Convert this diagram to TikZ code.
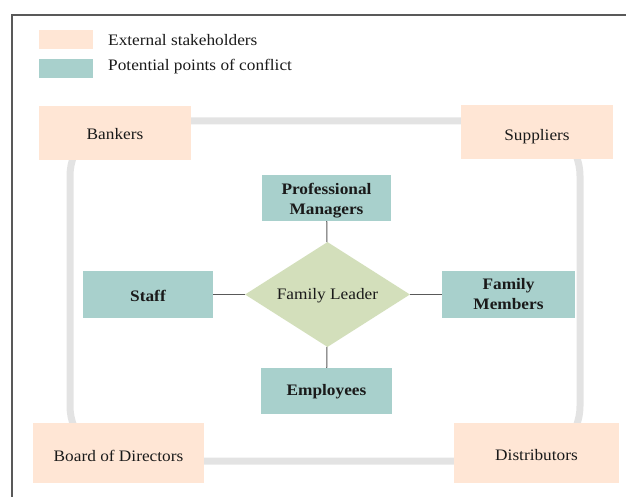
\documentclass[tikz,border=0pt]{standalone}
\usepackage{fontspec}
\setmainfont{Liberation Serif}[FakeStretch=1.08]
\usetikzlibrary{shapes.geometric}

\definecolor{peach}{HTML}{FFE6D5}
\definecolor{teal}{HTML}{A8D0CC}
\definecolor{sage}{HTML}{D3DFBB}
\definecolor{ringgray}{HTML}{E3E3E3}
\definecolor{ink}{HTML}{1A1A1A}

% lower a label inside its box without changing the box size
\newcommand\shiftdown[2]{\raisebox{-#1}[\height][\depth]{#2}}
% two centred lines as one box
\newcommand\twolines[2]{\begin{tabular}{@{}c@{}}#1\\#2\end{tabular}}

\begin{document}
\begin{tikzpicture}[x=1pt,y=-1pt,
  font=\fontsize{16}{18}\selectfont,
  every node/.style={text=ink, inner sep=0pt, align=center},
  ext/.style={fill=peach, draw=none},
  conflict/.style={fill=teal, draw=none, font=\fontsize{16}{19.5}\selectfont\bfseries},
  leader/.style={diamond, fill=sage, draw=none, aspect=1.57, minimum width=165, minimum height=105},
  swatch/.style={minimum width=54, minimum height=19},
  legendtext/.style={anchor=west},
  ring/.style={draw=ringgray, line width=7, rounded corners=55},
  conn/.style={draw=black!65, line width=1},
  frame/.style={draw=black!65, line width=1.3}]
\useasboundingbox (0,0) rectangle (626,497);

% outer frame
\draw[frame] (12,497) -- (12,15) -- (626,15);

% legend
\node[swatch, fill=peach] (sw1) at (66,39.5) {};
\node[legendtext] (lg1) at (108,40) {External stakeholders};
\node[swatch, fill=teal] (sw2) at (66,68.5) {};
\node[legendtext] (lg2) at (108,67) {Potential points of conflict};

% ring linking the external stakeholders
\draw[ring] (70,121) rectangle (580,461);

% external stakeholders
\node[ext, minimum width=152, minimum height=54] (bankers) at (115,133) {\shiftdown{1pt}{Bankers}};
\node[ext, minimum width=152, minimum height=54] (suppliers) at (537,132.5) {\shiftdown{4pt}{Suppliers}};
\node[ext, minimum width=171, minimum height=60] (board) at (118.5,453) {\shiftdown{3pt}{Board of Directors}};
\node[ext, minimum width=165, minimum height=60] (distributors) at (536.5,453) {\shiftdown{2pt}{Distributors}};

% family leader and points of conflict
\node[leader] (leader) at (327.5,294.5) {\shiftdown{1.5pt}{Family Leader}};
\node[conflict, minimum width=129, minimum height=46] (pm) at (326.5,198) {\shiftdown{2.5pt}{\twolines{Professional}{Managers}}};
\node[conflict, minimum width=130, minimum height=47] (staff) at (148,294.5) {\shiftdown{1.5pt}{Staff}};
\node[conflict, minimum width=133, minimum height=47] (fm) at (508.5,294.5) {\shiftdown{1pt}{\twolines{Family}{Members}}};
\node[conflict, minimum width=131, minimum height=46] (emp) at (326.5,391) {\shiftdown{1pt}{Employees}};

% connectors
\draw[conn] (pm) -- (leader);
\draw[conn] (staff) -- (leader);
\draw[conn] (fm) -- (leader);
\draw[conn] (emp) -- (leader);
\end{tikzpicture}
\end{document}
